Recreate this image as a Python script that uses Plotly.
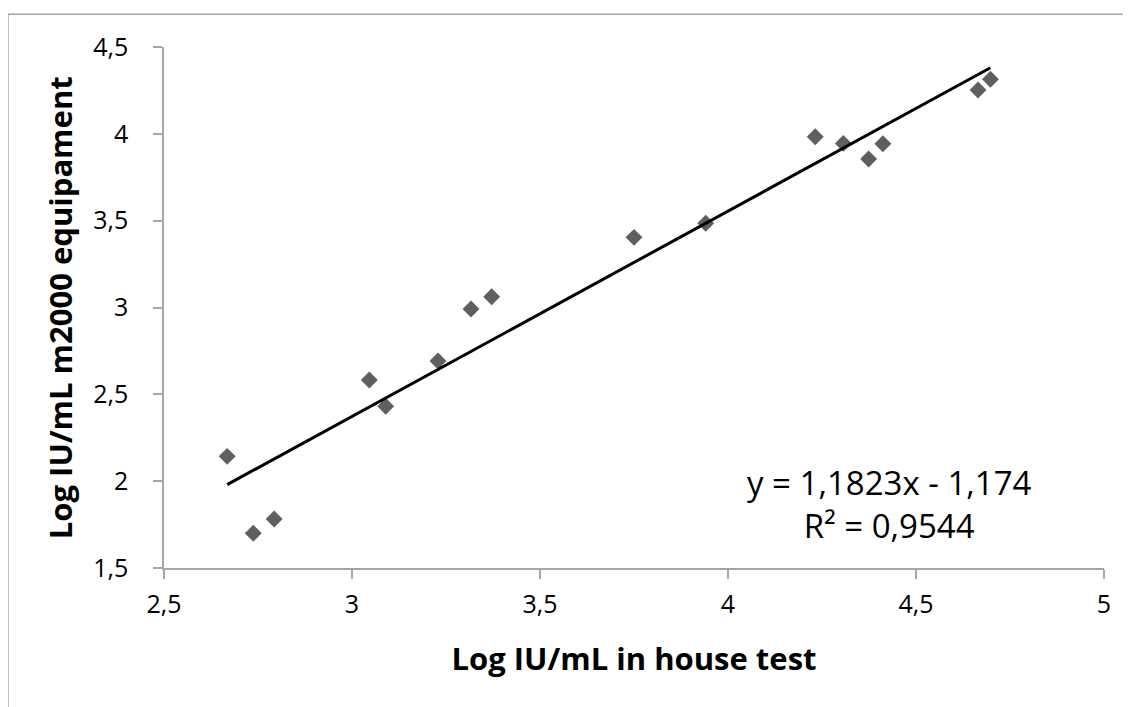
import plotly.graph_objects as go

x_vals = [2.668, 2.7375, 2.793, 3.046, 3.0896, 3.2287, 3.3165, 3.3715, 3.750, 3.9407,
          4.232, 4.3067, 4.374, 4.412, 4.665, 4.698]
y_vals = [2.143, 1.700, 1.782, 2.5825, 2.431, 2.692, 2.991, 3.062, 3.404, 3.485,
          3.983, 3.945, 3.855, 3.943, 4.252, 4.314]
slope = 1.1823
intercept = -1.174
eq_text = "y = 1,1823x - 1,174<br>R² = 0,9544"
x_title = "Log IU/mL in house test"
y_title = "Log IU/mL m2000 equipament"

xmin, xmax = min(x_vals), max(x_vals)
trend_x = [xmin, xmax]
trend_y = [slope * v + intercept for v in trend_x]

fig = go.Figure()
fig.add_trace(go.Scatter(x=x_vals, y=y_vals, mode="markers",
                         marker=dict(symbol="diamond", size=13, color="#5f5f5f"),
                         showlegend=False))
fig.add_trace(go.Scatter(x=trend_x, y=trend_y, mode="lines",
                         line=dict(color="black", width=3), showlegend=False))

font_family = "Open Sans, Liberation Sans, sans-serif"
axis_common = dict(showgrid=False, zeroline=False, showline=True, linecolor="#a6a6a6",
                   linewidth=1.5, ticks="outside", ticklen=9, tickcolor="#a6a6a6",
                   tickwidth=1.5, tickfont=dict(family=font_family, size=25, color="black"),
                   automargin=False)
fig.update_layout(
    width=1131, height=707,
    margin=dict(l=156, r=35, t=39, b=147),
    paper_bgcolor="white", plot_bgcolor="white",
    separators=", ",
    xaxis=dict(range=[2.5, 5], dtick=0.5, tick0=2.5,
               title=dict(text="<b>" + x_title + "</b>",
                          font=dict(family=font_family, size=31, color="black"),
                          standoff=30),
               ticklabelstandoff=4, **axis_common),
    yaxis=dict(range=[1.5, 4.5], dtick=0.5, tick0=1.5,
               ticklabelstandoff=20, **axis_common),
    annotations=[
        dict(text=eq_text, x=0.772, y=1.868, xref="paper", yref="y", xanchor="center",
             yanchor="middle", showarrow=False,
             font=dict(family=font_family, size=33, color="black"), align="center"),
        dict(text="<b>" + y_title + "</b>", x=-0.111, y=0.5, xref="paper", yref="paper",
             xanchor="center", yanchor="middle", textangle=-90, showarrow=False,
             font=dict(family=font_family, size=31, color="black")),
    ],
    shapes=[dict(type="rect", xref="paper", yref="paper", x0=-0.166, x1=1.1, y0=-0.5, y1=1.063,
                 line=dict(color="#a6a6a6", width=1.5), fillcolor="rgba(0,0,0,0)", layer="below")],
)
fig.write_html("out.html")
